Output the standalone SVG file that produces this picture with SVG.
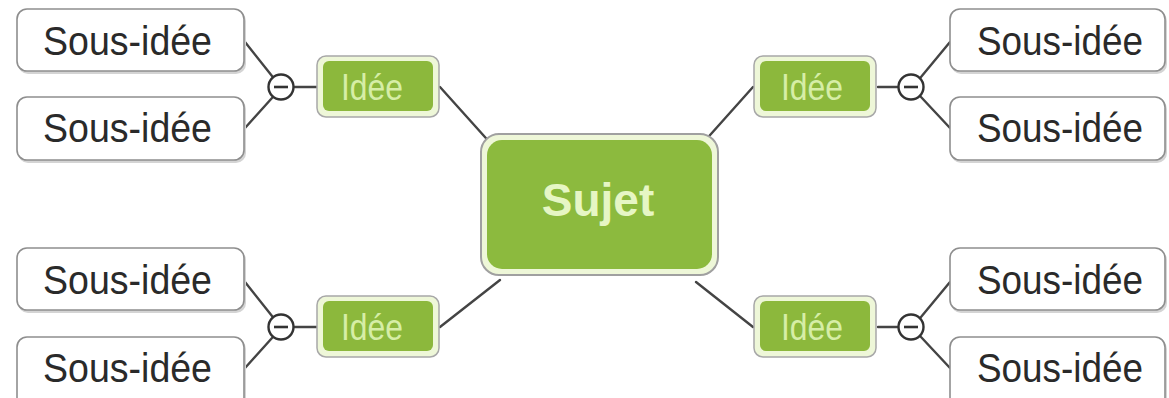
<svg xmlns="http://www.w3.org/2000/svg" width="1169" height="398" viewBox="0 0 1169 398">
<defs>
<style>
.sub rect.b{fill:#fff;stroke:#8e8e8e;stroke-width:1.6}
.sub rect.s{fill:#d4d4d4}
.sub text{font-family:"Liberation Sans",Arial,sans-serif;font-size:40px;fill:#2a2a2a}
.idea rect.o{fill:#eef7d8;stroke:#a8a8a8;stroke-width:1.5}
.idea rect.i{fill:#8cb83c}
.idea text{font-family:"Liberation Sans",Arial,sans-serif;font-size:37px;fill:#d6eea6;text-anchor:middle}
.topic rect.o{fill:#eef7d8;stroke:#a0a0a0;stroke-width:2}
.topic rect.i{fill:#8cba3e}
.topic text{font-family:"Liberation Sans",Arial,sans-serif;font-size:46px;font-weight:bold;fill:#e6f6c4;text-anchor:middle}
.conn line{stroke:#444;stroke-width:2.4;stroke-linecap:round}
.tog circle{fill:#fff;stroke:#333;stroke-width:2.4}
.tog line{stroke:#333;stroke-width:2.6}
</style>
</defs>
<rect width="1169" height="398" fill="#fff"/>
<g class="conn" id="connectors">
<line x1="440" y1="87" x2="502" y2="156"/>
<line x1="753" y1="87" x2="694" y2="153"/>
<line x1="440" y1="327" x2="500" y2="280"/>
<line x1="753" y1="327" x2="696" y2="282"/>
<line x1="245" y1="42" x2="272" y2="76"/>
<line x1="245" y1="128" x2="272" y2="98"/>
<line x1="292" y1="87" x2="318" y2="87"/>
<line x1="245" y1="282" x2="272" y2="316"/>
<line x1="245" y1="368" x2="272" y2="338"/>
<line x1="292" y1="327" x2="318" y2="327"/>
<line x1="950" y1="42" x2="921" y2="77"/>
<line x1="950" y1="128" x2="921" y2="97"/>
<line x1="878" y1="87" x2="900" y2="87"/>
<line x1="950" y1="282" x2="921" y2="317"/>
<line x1="950" y1="368" x2="921" y2="337"/>
<line x1="878" y1="327" x2="900" y2="327"/>
</g>
<g id="topic" class="topic">
<rect class="o" x="481" y="134" width="237" height="141" rx="18"/>
<rect class="i" x="487" y="140" width="225" height="129" rx="15"/>
<text x="598" y="216">Sujet</text>
</g>
<g id="idea-tl" class="idea">
<rect class="o" x="317" y="56" width="122" height="61" rx="9"/>
<rect class="i" x="323" y="61" width="110" height="50" rx="6"/>
<text x="372" y="100" textLength="62" lengthAdjust="spacingAndGlyphs">Idée</text>
</g>
<g id="idea-tr" class="idea">
<rect class="o" x="754" y="56" width="122" height="61" rx="9"/>
<rect class="i" x="760" y="61" width="110" height="50" rx="6"/>
<text x="812" y="100" textLength="62" lengthAdjust="spacingAndGlyphs">Idée</text>
</g>
<g id="idea-bl" class="idea">
<rect class="o" x="317" y="296" width="122" height="61" rx="9"/>
<rect class="i" x="323" y="301" width="110" height="50" rx="6"/>
<text x="372" y="340" textLength="62" lengthAdjust="spacingAndGlyphs">Idée</text>
</g>
<g id="idea-br" class="idea">
<rect class="o" x="754" y="296" width="122" height="61" rx="9"/>
<rect class="i" x="760" y="301" width="110" height="50" rx="6"/>
<text x="812" y="340" textLength="62" lengthAdjust="spacingAndGlyphs">Idée</text>
</g>
<g id="toggle-tl" class="tog"><circle cx="281" cy="87" r="12.5"/><line x1="274" y1="87" x2="288" y2="87"/></g>
<g id="toggle-tr" class="tog"><circle cx="911" cy="87" r="12.5"/><line x1="904" y1="87" x2="918" y2="87"/></g>
<g id="toggle-bl" class="tog"><circle cx="281" cy="327" r="12.5"/><line x1="274" y1="327" x2="288" y2="327"/></g>
<g id="toggle-br" class="tog"><circle cx="911" cy="327" r="12.5"/><line x1="904" y1="327" x2="918" y2="327"/></g>
<g id="sub-tl1" class="sub"><rect class="s" x="18" y="11" width="228" height="63" rx="10"/><rect class="b" x="17" y="9" width="227" height="62" rx="10"/><text x="43" y="55" textLength="169" lengthAdjust="spacingAndGlyphs">Sous-idée</text></g>
<g id="sub-tl2" class="sub"><rect class="s" x="18" y="99" width="228" height="64" rx="10"/><rect class="b" x="17" y="97" width="227" height="63" rx="10"/><text x="43" y="142" textLength="169" lengthAdjust="spacingAndGlyphs">Sous-idée</text></g>
<g id="sub-bl1" class="sub"><rect class="s" x="18" y="250" width="228" height="63" rx="10"/><rect class="b" x="17" y="248" width="227" height="62" rx="10"/><text x="43" y="294" textLength="169" lengthAdjust="spacingAndGlyphs">Sous-idée</text></g>
<g id="sub-bl2" class="sub"><rect class="s" x="18" y="339" width="228" height="70" rx="10"/><rect class="b" x="17" y="337" width="227" height="70" rx="10"/><text x="43" y="382" textLength="169" lengthAdjust="spacingAndGlyphs">Sous-idée</text></g>
<g id="sub-tr1" class="sub"><rect class="s" x="951" y="11" width="216" height="63" rx="10"/><rect class="b" x="950" y="9" width="215" height="62" rx="10"/><text x="977" y="55" textLength="166" lengthAdjust="spacingAndGlyphs">Sous-idée</text></g>
<g id="sub-tr2" class="sub"><rect class="s" x="951" y="99" width="216" height="64" rx="10"/><rect class="b" x="950" y="97" width="215" height="63" rx="10"/><text x="977" y="142" textLength="166" lengthAdjust="spacingAndGlyphs">Sous-idée</text></g>
<g id="sub-br1" class="sub"><rect class="s" x="951" y="250" width="216" height="63" rx="10"/><rect class="b" x="950" y="248" width="215" height="62" rx="10"/><text x="977" y="294" textLength="166" lengthAdjust="spacingAndGlyphs">Sous-idée</text></g>
<g id="sub-br2" class="sub"><rect class="s" x="951" y="339" width="216" height="70" rx="10"/><rect class="b" x="950" y="337" width="215" height="70" rx="10"/><text x="977" y="382" textLength="166" lengthAdjust="spacingAndGlyphs">Sous-idée</text></g>
</svg>
